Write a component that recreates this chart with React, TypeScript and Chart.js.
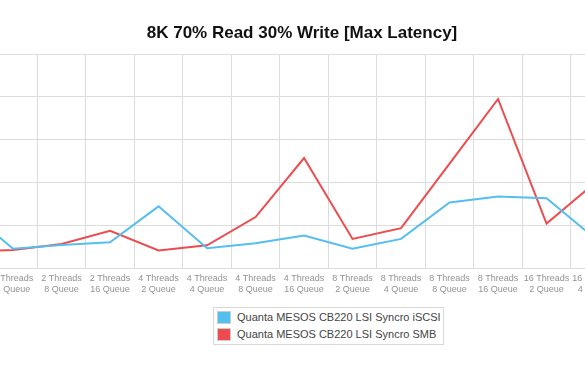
import React, { useEffect, useRef } from "react";
import { Chart, registerables } from "chart.js";

Chart.register(...registerables);

const categories: string[][] = [
  ["2 Threads", "2 Queue"],
  ["2 Threads", "4 Queue"],
  ["2 Threads", "8 Queue"],
  ["2 Threads", "16 Queue"],
  ["4 Threads", "2 Queue"],
  ["4 Threads", "4 Queue"],
  ["4 Threads", "8 Queue"],
  ["4 Threads", "16 Queue"],
  ["8 Threads", "2 Queue"],
  ["8 Threads", "4 Queue"],
  ["8 Threads", "8 Queue"],
  ["8 Threads", "16 Queue"],
  ["16 Threads", "2 Queue"],
  ["16 Threads", "4 Queue"],
];

const iscsiValues = [14, 4.5, 5.4, 6.0, 14.4, 4.6, 5.8, 7.6, 4.5, 6.8, 15.3, 16.7, 16.3, 6.9];
const smbValues = [3.8, 4.2, 5.6, 8.7, 4.1, 5.3, 11.9, 25.7, 6.8, 9.3, 24.4, 39.5, 10.4, 19.9];

const seriesNames = ["Quanta MESOS CB220 LSI Syncro iSCSI", "Quanta MESOS CB220 LSI Syncro SMB"];
const seriesColors = ["#55bef0", "#ee4b4f"];
const titleText = "8K 70% Read 30% Write [Max Latency]";

const FONT = '"Liberation Sans", Arial, Helvetica, sans-serif';

export default function App() {
  const ref = useRef<HTMLCanvasElement | null>(null);

  useEffect(() => {
    if (!ref.current) return;
    const chart = new Chart(ref.current, {
      type: "line",
      data: {
        labels: categories,
        datasets: [
          {
            label: seriesNames[0],
            data: iscsiValues,
            borderColor: seriesColors[0],
            backgroundColor: seriesColors[0],
            borderWidth: 2,
            pointRadius: 0,
            tension: 0,
            fill: false,
          },
          {
            label: seriesNames[1],
            data: smbValues,
            borderColor: seriesColors[1],
            backgroundColor: seriesColors[1],
            borderWidth: 2,
            pointRadius: 0,
            tension: 0,
            fill: false,
          },
        ],
      },
      options: {
        responsive: false,
        animation: false,
        maintainAspectRatio: false,
        layout: { padding: { left: 20.3, right: 20.7, top: 54, bottom: 0 } },
        plugins: {
          legend: { display: false },
          title: { display: false },
          tooltip: { enabled: false },
        },
        scales: {
          x: {
            offset: true,
            grid: { offset: true, color: "#dcdcdc", lineWidth: 1, drawTicks: false },
            border: { display: false },
            ticks: {
              color: "#929292",
              font: { family: FONT, size: 9, lineHeight: 1.25 },
              padding: 5,
              maxRotation: 0,
              autoSkip: false,
            },
            afterFit: (s: any) => {
              s.height = 32;
            },
          },
          y: {
            min: 0,
            max: 50,
            ticks: { display: false, stepSize: 10 },
            grid: { color: "#dcdcdc", lineWidth: 1, drawTicks: false },
            border: { display: false },
            afterFit: (s: any) => {
              s.width = 0;
            },
          },
        },
      },
    });
    return () => chart.destroy();
  }, []);

  return (
    <div
      style={{
        position: "absolute",
        left: 0,
        top: 0,
        width: 585,
        height: 376,
        overflow: "hidden",
        background: "#fff",
        fontFamily: FONT,
      }}
    >
      <canvas
        ref={ref}
        width={720}
        height={300}
        style={{ position: "absolute", left: -80, top: 0, width: 720, height: 300 }}
      />
      <div
        style={{
          position: "absolute",
          left: 0,
          top: 23,
          width: 604,
          textAlign: "center",
          fontSize: 17,
          lineHeight: "20px",
          fontWeight: "bold",
          color: "#111",
        }}
      >
        {titleText}
      </div>
      <div
        style={{
          position: "absolute",
          left: 213,
          top: 307,
          width: 231,
          height: 38,
          border: "1px solid #d8d8d8",
          boxSizing: "border-box",
        }}
      >
        {seriesNames.map((name, i) => (
          <div
            key={name}
            style={{ position: "absolute", left: 3, top: 3 + i * 17, height: 13, display: "flex", alignItems: "center" }}
          >
            <span
              style={{
                display: "inline-block",
                width: 14,
                height: 13,
                boxSizing: "border-box",
                border: "1px solid #cccccc",
                background: seriesColors[i],
              }}
            />
            <span style={{ marginLeft: 6, fontSize: 11, lineHeight: "13px", color: "#444", whiteSpace: "nowrap" }}>
              {name}
            </span>
          </div>
        ))}
      </div>
    </div>
  );
}
